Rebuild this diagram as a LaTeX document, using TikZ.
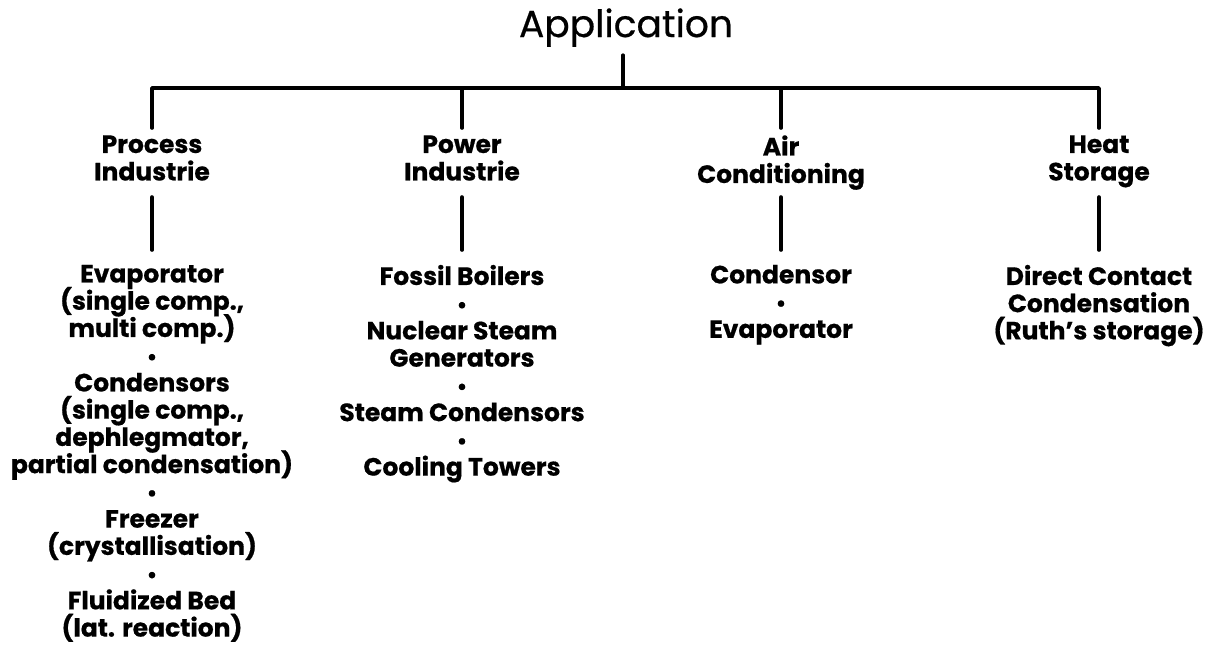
\documentclass[tikz,border=0pt]{standalone}
\usepackage{fontspec}
\setmainfont{Poppins}[BoldFeatures={FakeBold=0.6}]
\newfontfamily\titlefont{Poppins}[FakeBold=0.5]
\newcommand{\tightlines}{\lineskiplimit=-100pt\relax\lineskip=0pt\relax}
\newcommand{\sepdot}{{\fontsize{10.5}{10}\selectfont •}}
\begin{document}
\begin{tikzpicture}[x=0.5pt,y=-0.5pt,
  conn/.style={line width=1.8pt,line cap=round,line join=round},
  titlebox/.style={inner sep=0pt,font=\titlefont\fontsize{18.8}{20}\selectfont},
  catbox/.style={inner sep=0pt,align=center,text depth=0pt,anchor=north,
    font=\bfseries\fontsize{12.5}{13.75}\selectfont\tightlines},
  itembox/.style={inner sep=0pt,align=center,anchor=north,
    font=\bfseries\fontsize{12.5}{13.62}\selectfont\tightlines}]
\path[use as bounding box] (0,0) rectangle (1217,645);

\node[titlebox,anchor=base] (app) at (626,37) {Application};

\node[catbox] (p1) at (152,135) {Process\\Industrie};
\node[catbox] (p2) at (462,135) {Power\\Industrie};
\node[catbox] (p3) at (781,135) {Air\\Conditioning};
\node[catbox] (p4) at (1099,135) {Heat\\Storage};

\node[itembox] (c1) at (152,264.5) {Evaporator\\(single comp.,\\multi comp.)\\\sepdot\\Condensors\\(single comp.,\\dephlegmator,\\partial condensation)\\\sepdot\\Freezer\\(crystallisation)\\\sepdot\\Fluidized Bed\\(lat. reaction)};
\node[itembox] (c2) at (462,264.5) {Fossil Boilers\\\sepdot\\Nuclear Steam\\Generators\\\sepdot\\Steam Condensors\\\sepdot\\Cooling Towers};
\node[itembox] (c3) at (781,264.5) {Condensor\\\sepdot\\Evaporator};
\node[itembox] (c4) at (1099,264.5) {Direct Contact\\Condensation\\(Ruth’s storage)};

\coordinate (j) at (623,88);
\draw[conn] (app.south -| j) ++(0,8) -- (j);
\draw[conn] (p1.north) ++(0,-7) -- (p1.north |- j) -- (p4.north |- j) -- ([yshift=3.5pt]p4.north);
\draw[conn] (p2.north) ++(0,-7) -- (p2.north |- j);
\draw[conn] (p3.north) ++(0,-7) -- (p3.north |- j);

\foreach \i in {1,2,3,4}{
  \draw[conn] (p\i.north) ++(0,62) -- ([yshift=7.25pt]c\i.north);
}
\end{tikzpicture}
\end{document}
